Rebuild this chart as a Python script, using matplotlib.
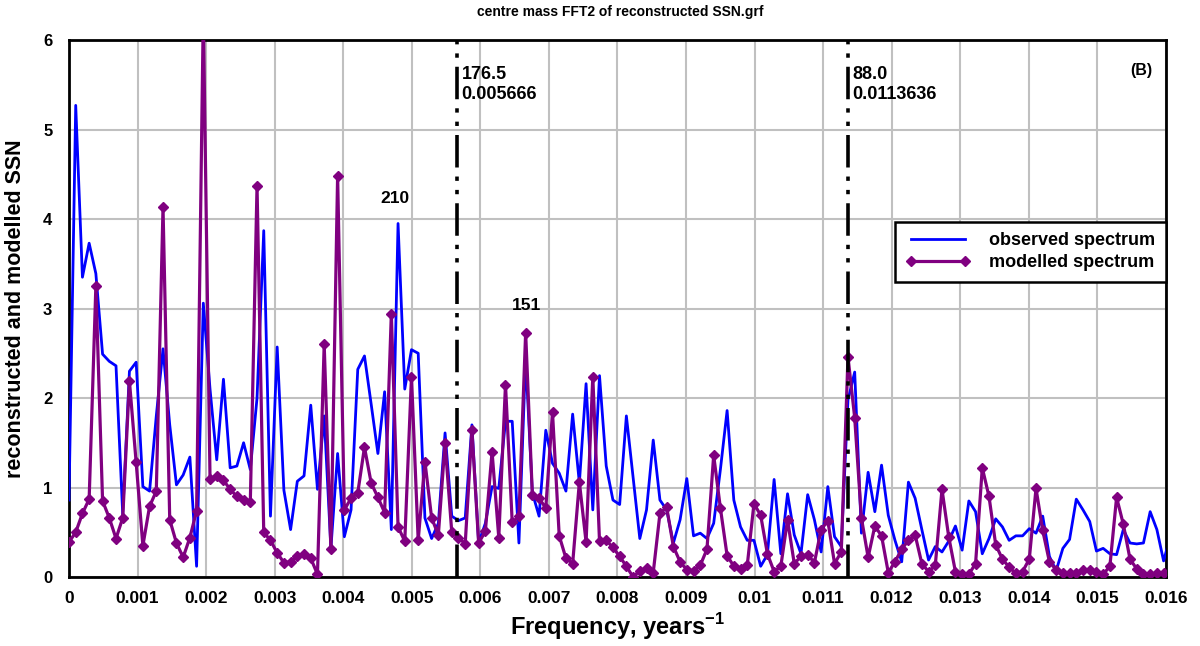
import numpy as np
import matplotlib
matplotlib.use("Agg")
import matplotlib.pyplot as plt

plt.rcParams["font.family"] = ["Liberation Sans", "DejaVu Sans"]
plt.rcParams["font.weight"] = "bold"
plt.rcParams["mathtext.fontset"] = "custom"
plt.rcParams["mathtext.bf"] = "Liberation Sans:bold"
plt.rcParams["mathtext.rm"] = "Liberation Sans:bold"

# frequency step of the FFT (years^-1)
freq_step = 1 / 10208

observed = [
    0.86, 5.27, 3.35, 3.73, 3.39, 2.49, 2.41, 2.36, 0.70, 2.30,
    2.40, 1.01, 0.96, 1.80, 2.55, 1.70, 1.03, 1.14, 1.34, 0.12,
    3.06, 2.10, 1.31, 2.21, 1.22, 1.24, 1.50, 1.20, 2.00, 3.87,
    0.68, 2.57, 0.97, 0.53, 1.07, 1.13, 1.92, 0.98, 1.80, 0.32,
    1.38, 0.45, 0.75, 2.32, 2.47, 1.93, 1.38, 2.07, 0.53, 3.95,
    2.10, 2.54, 2.50, 0.66, 0.43, 0.60, 1.61, 0.68, 0.63, 0.66,
    1.70, 0.38, 0.60, 1.01, 0.99, 1.74, 1.74, 0.38, 2.45, 0.94,
    0.68, 1.64, 1.27, 1.16, 0.96, 1.82, 1.05, 2.16, 0.75, 2.25,
    1.24, 0.86, 0.81, 1.80, 1.12, 0.43, 0.75, 1.53, 0.86, 0.75,
    0.38, 0.64, 1.10, 0.46, 0.49, 0.43, 0.60, 1.20, 1.86, 0.86,
    0.56, 0.41, 0.41, 0.12, 0.25, 1.09, 0.26, 0.93, 0.47, 0.26,
    0.92, 0.64, 0.28, 1.01, 0.45, 0.34, 1.98, 2.29, 0.49, 1.17,
    0.73, 1.25, 0.69, 0.41, 0.17, 1.06, 0.88, 0.53, 0.19, 0.34,
    0.28, 0.40, 0.57, 0.30, 0.85, 0.73, 0.26, 0.43, 0.65, 0.56,
    0.41, 0.46, 0.46, 0.54, 0.49, 0.68, 0.23, 0.07, 0.32, 0.42,
    0.87, 0.75, 0.62, 0.29, 0.32, 0.26, 0.25, 0.53, 0.38, 0.37,
    0.38, 0.73, 0.53, 0.18, 0.45,
]

modelled = [
    0.39, 0.50, 0.71, 0.87, 3.25, 0.85, 0.66, 0.43, 0.66, 2.19,
    1.28, 0.35, 0.79, 0.96, 4.13, 0.64, 0.38, 0.22, 0.44, 0.74,
    6.30, 1.10, 1.13, 1.08, 0.98, 0.90, 0.86, 0.84, 4.37, 0.50,
    0.41, 0.27, 0.16, 0.17, 0.24, 0.26, 0.21, 0.03, 2.60, 0.31,
    4.48, 0.75, 0.88, 0.94, 1.45, 1.05, 0.89, 0.72, 2.94, 0.56,
    0.40, 2.24, 0.41, 1.29, 0.66, 0.47, 1.50, 0.50, 0.44, 0.37,
    1.64, 0.38, 0.51, 1.40, 0.44, 2.15, 0.61, 0.68, 2.73, 0.92,
    0.88, 0.77, 1.84, 0.46, 0.21, 0.15, 1.06, 0.39, 2.24, 0.40,
    0.41, 0.33, 0.23, 0.12, 0.00, 0.07, 0.10, 0.05, 0.71, 0.78,
    0.34, 0.17, 0.08, 0.07, 0.13, 0.31, 1.36, 0.77, 0.24, 0.12,
    0.09, 0.13, 0.82, 0.69, 0.26, 0.06, 0.12, 0.64, 0.15, 0.23,
    0.25, 0.16, 0.53, 0.63, 0.15, 0.28, 2.46, 1.78, 0.66, 0.22,
    0.57, 0.46, 0.05, 0.17, 0.31, 0.41, 0.47, 0.15, 0.06, 0.13,
    0.98, 0.45, 0.06, 0.03, 0.03, 0.15, 1.22, 0.90, 0.36, 0.20,
    0.11, 0.04, 0.06, 0.20, 0.99, 0.52, 0.17, 0.08, 0.05, 0.04,
    0.05, 0.08, 0.08, 0.06, 0.03, 0.12, 0.89, 0.59, 0.20, 0.09,
    0.03, 0.03, 0.04, 0.04, 0.05,
]

freqs = np.arange(len(observed)) * freq_step

# marked periods and their frequencies
marked_periods = ["176.5", "88.0"]
marked_freqs = ["0.005666", "0.0113636"]

# peak labels
peak_labels = ["210", "151"]
peak_freqs = [0.00475, 0.00667]
peak_heights = [4.15, 2.95]

x_ticks = np.arange(0, 0.0161, 0.001)
x_tick_labels = ["0", "0.001", "0.002", "0.003", "0.004", "0.005", "0.006",
                 "0.007", "0.008", "0.009", "0.01", "0.011", "0.012",
                 "0.013", "0.014", "0.015", "0.016"]

fig = plt.figure(figsize=(12, 6.46), dpi=100)
ax = fig.add_axes([0.0575, 0.1068, 0.914, 0.8312])

ax.plot(freqs, observed, color="#0000ff", lw=2.0, label="observed spectrum",
        zorder=3)
ax.plot(freqs, modelled, color="#800080", lw=2.3, marker="D", markersize=5.5,
        markerfacecolor="#800080", markeredgecolor="#800080",
        label="modelled spectrum", zorder=4)

for period, f in zip(marked_periods, marked_freqs):
    ax.axvline(float(f), color="black", lw=2.6,
               linestyle=(0, (9, 2.5, 1.2, 2.5, 1.2, 2.5)), zorder=5)
    ax.text(float(f) + 0.00006, 5.71, f"{period}\n{f}", fontsize=13,
            fontweight="bold", va="top", ha="left", linespacing=1.2)

for txt, f, h in zip(peak_labels, peak_freqs, peak_heights):
    ax.text(f, h, txt, fontsize=12.5, fontweight="bold", ha="center", va="bottom")

ax.text(0.0158, 5.66, "(B)", fontsize=11.5, fontweight="bold", ha="right", va="center")

ax.set_xlim(0, 0.016)
ax.set_ylim(0, 6)
ax.set_xticks(x_ticks)
ax.set_xticklabels(x_tick_labels, fontsize=12.5, fontweight="bold")
ax.set_yticks(range(7))
ax.set_yticklabels([str(v) for v in range(7)], fontsize=12, fontweight="bold")
ax.tick_params(length=0, pad=10)
ax.tick_params(axis="y", pad=12)

ax.grid(True, color="#c0c0c0", lw=1.5)
ax.set_axisbelow(True)
for s in ax.spines.values():
    s.set_linewidth(2)
    s.set_color("black")

ax.set_xlabel("Frequency, years$^{\\mathbf{-1}}$", fontsize=17,
              fontweight="bold", labelpad=4)
ax.set_ylabel("reconstructed and modelled SSN", fontsize=15.5, fontweight="bold",
              labelpad=12)
fig.suptitle("centre mass FFT2 of reconstructed SSN.grf",
             fontsize=10, fontweight="bold", x=0.517, y=0.992)

leg = ax.legend(loc="upper right", bbox_to_anchor=(1.0, 0.662),
                frameon=True, fancybox=False, borderpad=0.6, handlelength=3.6,
                handletextpad=1.0, labelspacing=0.25, numpoints=2,
                borderaxespad=0.0, prop={"weight": "bold", "size": 13})
leg.get_frame().set_edgecolor("black")
leg.get_frame().set_linewidth(1.8)
leg.get_frame().set_alpha(1)

fig.savefig("out.png", dpi=100)
